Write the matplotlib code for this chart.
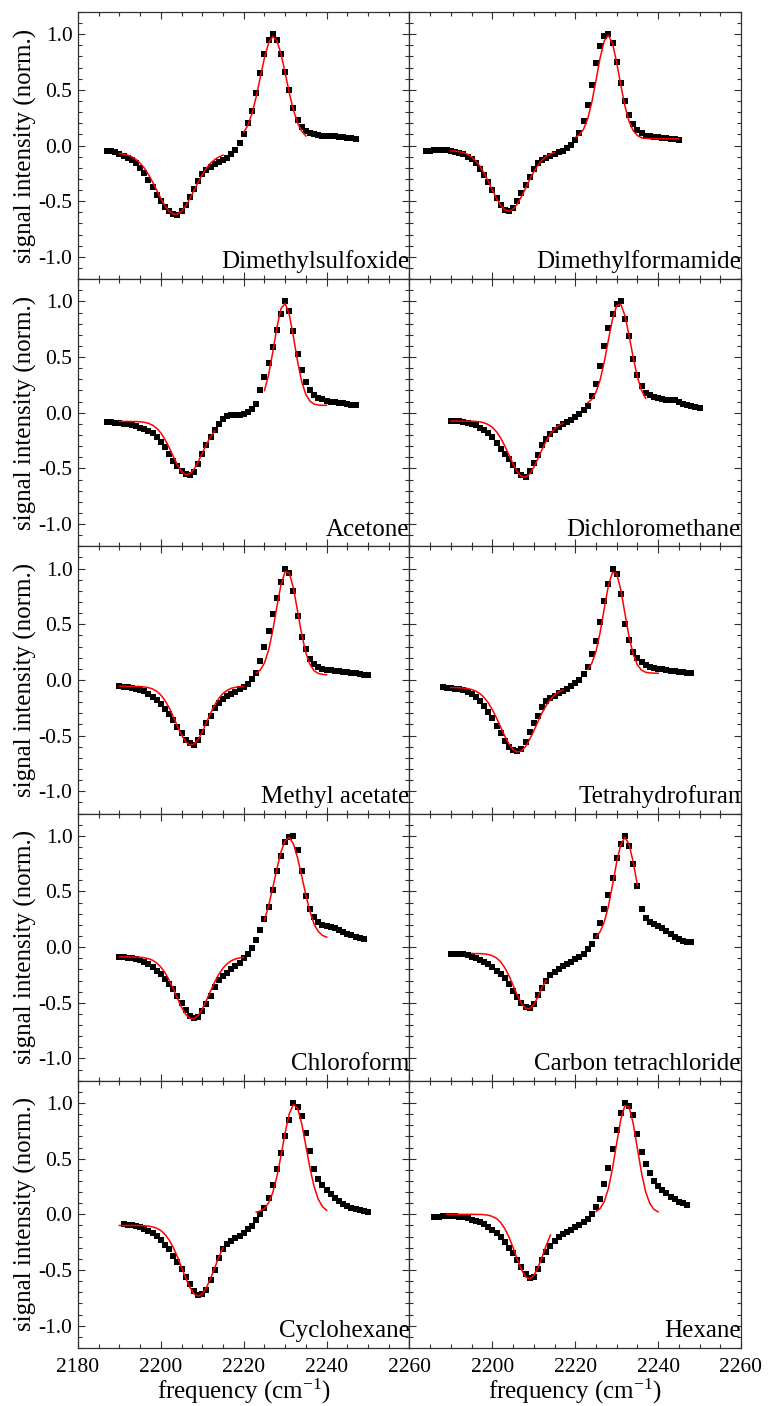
import matplotlib
matplotlib.use('Agg')
import matplotlib.pyplot as plt
import numpy as np
from matplotlib.ticker import MultipleLocator, FuncFormatter

plt.rcParams['font.family'] = ['Liberation Serif', 'DejaVu Serif']
plt.rcParams['mathtext.fontset'] = 'custom'
plt.rcParams['mathtext.rm'] = 'Liberation Serif'
plt.rcParams['mathtext.it'] = 'Liberation Serif:italic'
plt.rcParams['axes.unicode_minus'] = False

# ---------------- data (frequency in cm^-1, 1 cm^-1 steps from start) -------------
solvents = ["Dimethylsulfoxide", "Dimethylformamide", "Acetone", "Dichloromethane",
            "Methyl acetate", "Tetrahydrofuran", "Chloroform", "Carbon tetrachloride",
            "Cyclohexane", "Hexane"]

dmso_start = 2187
dmso_sig = [-0.045,-0.05,-0.06,-0.075,-0.09,-0.11,-0.13,-0.16,-0.20,-0.25,-0.31,-0.37,-0.44,-0.50,-0.55,-0.59,-0.615,-0.62,-0.59,-0.53,-0.46,-0.39,-0.32,-0.26,-0.22,-0.19,-0.17,-0.15,-0.13,-0.11,-0.08,-0.04,0.02,0.10,0.20,0.31,0.47,0.65,0.82,0.95,1.00,0.95,0.82,0.66,0.50,0.34,0.23,0.17,0.135,0.115,0.10,0.095,0.09,0.088,0.085,0.082,0.08,0.077,0.072,0.065,0.058]
dmso_fit1_start = 2190
dmso_fit1 = [-0.071,-0.077,-0.086,-0.102,-0.125,-0.158,-0.203,-0.260,-0.328,-0.402,-0.475,-0.541,-0.590,-0.617,-0.617,-0.590,-0.541,-0.475,-0.402,-0.328,-0.260,-0.203,-0.158,-0.125,-0.102,-0.086]
dmso_fit2_start = 2220
dmso_fit2 = [0.118,0.184,0.290,0.438,0.614,0.789,0.923,0.98,0.942,0.821,0.651,0.471,0.317,0.202,0.128,0.086]

dmf_start = 2184
dmf_sig = [-0.05,-0.045,-0.04,-0.036,-0.037,-0.04,-0.047,-0.055,-0.065,-0.08,-0.10,-0.125,-0.16,-0.21,-0.265,-0.33,-0.40,-0.47,-0.535,-0.58,-0.59,-0.56,-0.50,-0.43,-0.355,-0.28,-0.21,-0.16,-0.13,-0.11,-0.09,-0.075,-0.06,-0.045,-0.025,0.005,0.05,0.11,0.22,0.36,0.54,0.74,0.89,0.98,1.00,0.92,0.75,0.56,0.40,0.27,0.19,0.14,0.11,0.09,0.082,0.078,0.075,0.07,0.066,0.062,0.056,0.05]
dmf_fit1_start = 2190
dmf_fit1 = [-0.047,-0.050,-0.055,-0.064,-0.079,-0.103,-0.138,-0.186,-0.248,-0.321,-0.399,-0.474,-0.537,-0.577,-0.59,-0.572,-0.526,-0.460,-0.384,-0.306,-0.235,-0.176,-0.130,-0.097,-0.075,-0.061]
dmf_fit2_start = 2220
dmf_fit2 = [0.073,0.096,0.146,0.240,0.388,0.583,0.786,0.940,0.99,0.916,0.747,0.542,0.354,0.216,0.133,0.090,0.070,0.065,0.062,0.062,0.062,0.062,0.061,0.061,0.060,0.060]

acetone_start = 2187
acetone_sig = [-0.08,-0.085,-0.09,-0.095,-0.10,-0.105,-0.113,-0.122,-0.135,-0.148,-0.165,-0.185,-0.22,-0.265,-0.31,-0.37,-0.43,-0.48,-0.525,-0.55,-0.557,-0.53,-0.46,-0.37,-0.29,-0.22,-0.155,-0.10,-0.055,-0.03,-0.02,-0.018,-0.016,-0.012,0.005,0.035,0.08,0.20,0.32,0.45,0.59,0.74,0.89,1.00,0.91,0.73,0.53,0.385,0.28,0.20,0.16,0.135,0.12,0.108,0.10,0.095,0.09,0.085,0.08,0.074,0.069]
acetone_fit1_start = 2190
acetone_fit1 = [-0.078,-0.078,-0.078,-0.079,-0.079,-0.081,-0.086,-0.095,-0.112,-0.139,-0.182,-0.240,-0.313,-0.393,-0.469,-0.528,-0.557,-0.549,-0.507,-0.440,-0.361,-0.283,-0.215,-0.163]
acetone_fit2_start = 2225
acetone_fit2 = [0.200,0.341,0.544,0.767,0.937,0.982,0.881,0.680,0.457,0.277,0.162,0.103,0.077,0.069,0.067,0.067]

dcm_start = 2190
dcm_sig = [-0.072,-0.073,-0.076,-0.079,-0.088,-0.098,-0.113,-0.133,-0.155,-0.185,-0.222,-0.27,-0.325,-0.37,-0.415,-0.465,-0.52,-0.56,-0.575,-0.52,-0.45,-0.38,-0.29,-0.235,-0.19,-0.155,-0.125,-0.10,-0.08,-0.065,-0.04,-0.01,0.025,0.063,0.15,0.26,0.42,0.60,0.76,0.885,0.975,1.0,0.84,0.69,0.48,0.34,0.24,0.18,0.155,0.14,0.128,0.12,0.115,0.115,0.11,0.095,0.08,0.07,0.06,0.05,0.042]
dcm_fit1_start = 2190
dcm_fit1 = [-0.075,-0.075,-0.075,-0.075,-0.076,-0.076,-0.078,-0.082,-0.091,-0.106,-0.131,-0.171,-0.227,-0.298,-0.379,-0.460,-0.529,-0.571,-0.578,-0.549,-0.490,-0.412,-0.330,-0.253,-0.191,-0.145,-0.114,-0.096]
dcm_fit2_start = 2223
dcm_fit2 = [0.089,0.120,0.183,0.293,0.455,0.653,0.841,0.963,0.975,0.872,0.693,0.494,0.322,0.201,0.130]

meac_start = 2190
meac_sig = [-0.057,-0.06,-0.065,-0.071,-0.078,-0.088,-0.10,-0.125,-0.15,-0.18,-0.22,-0.26,-0.31,-0.36,-0.42,-0.48,-0.535,-0.57,-0.58,-0.54,-0.47,-0.39,-0.32,-0.255,-0.21,-0.175,-0.147,-0.125,-0.105,-0.085,-0.06,-0.035,0.005,0.06,0.168,0.30,0.437,0.59,0.74,0.88,1.0,0.96,0.80,0.57,0.39,0.275,0.19,0.14,0.115,0.10,0.092,0.087,0.082,0.077,0.072,0.068,0.063,0.058,0.053,0.047,0.042]
meac_fit1_start = 2190
meac_fit1 = [-0.057,-0.057,-0.057,-0.057,-0.058,-0.059,-0.063,-0.069,-0.081,-0.102,-0.136,-0.185,-0.251,-0.331,-0.416,-0.496,-0.556,-0.585,-0.578,-0.535,-0.466,-0.382,-0.298,-0.223,-0.164,-0.121,-0.093,-0.075,-0.066,-0.061,-0.058]
meac_fit2_start = 2223
meac_fit2 = [0.061,0.090,0.153,0.269,0.444,0.659,0.858,0.974,0.960,0.822,0.615,0.405,0.241,0.137,0.082,0.058,0.05,0.047]

thf_start = 2188
thf_sig = [-0.066,-0.07,-0.073,-0.077,-0.083,-0.093,-0.108,-0.13,-0.155,-0.19,-0.235,-0.285,-0.345,-0.41,-0.48,-0.55,-0.60,-0.63,-0.64,-0.62,-0.56,-0.47,-0.39,-0.32,-0.24,-0.19,-0.16,-0.14,-0.12,-0.102,-0.08,-0.057,-0.03,0.003,0.05,0.12,0.235,0.347,0.52,0.71,0.86,1.0,0.95,0.77,0.50,0.36,0.255,0.195,0.16,0.13,0.115,0.105,0.1,0.094,0.088,0.083,0.079,0.074,0.069,0.064,0.06]
thf_fit1_start = 2190
thf_fit1 = [-0.068,-0.069,-0.070,-0.073,-0.077,-0.086,-0.100,-0.123,-0.157,-0.205,-0.267,-0.342,-0.423,-0.505,-0.575,-0.625,-0.648,-0.638,-0.598,-0.534,-0.457,-0.374,-0.296,-0.229,-0.175,-0.135,-0.108,-0.091]
thf_fit2_start = 2223
thf_fit2 = [0.095,0.149,0.255,0.425,0.640,0.847,0.968,0.954,0.810,0.595,0.387,0.229,0.135,0.088,0.069,0.063,0.061,0.06]

chcl3_start = 2190
chcl3_sig = [-0.087,-0.09,-0.095,-0.10,-0.108,-0.118,-0.13,-0.155,-0.18,-0.21,-0.245,-0.285,-0.33,-0.38,-0.44,-0.50,-0.565,-0.615,-0.64,-0.625,-0.57,-0.515,-0.44,-0.36,-0.295,-0.26,-0.23,-0.20,-0.17,-0.14,-0.10,-0.06,-0.012,0.06,0.15,0.25,0.36,0.515,0.68,0.82,0.94,0.99,1.0,0.87,0.68,0.46,0.347,0.27,0.225,0.20,0.19,0.18,0.17,0.155,0.138,0.122,0.107,0.093,0.08,0.069]
chcl3_fit1_start = 2190
chcl3_fit1 = [-0.087,-0.087,-0.087,-0.088,-0.089,-0.091,-0.095,-0.104,-0.118,-0.143,-0.179,-0.230,-0.297,-0.376,-0.461,-0.541,-0.604,-0.641,-0.644,-0.613,-0.555,-0.477,-0.393,-0.312,-0.243,-0.188,-0.149,-0.122,-0.106,-0.097,-0.092]
chcl3_fit2_start = 2225
chcl3_fit2 = [0.244,0.373,0.532,0.704,0.857,0.958,0.983,0.926,0.800,0.636,0.466,0.317,0.203,0.14,0.105,0.09]

ccl4_start = 2190
ccl4_sig = [-0.066,-0.064,-0.063,-0.064,-0.072,-0.085,-0.10,-0.115,-0.133,-0.153,-0.177,-0.21,-0.24,-0.28,-0.33,-0.39,-0.45,-0.50,-0.54,-0.55,-0.51,-0.43,-0.365,-0.30,-0.25,-0.22,-0.195,-0.17,-0.15,-0.13,-0.11,-0.085,-0.06,-0.02,0.025,0.10,0.215,0.34,0.47,0.62,0.80,0.93,1.00,0.91,0.75,0.55,0.34,0.26,0.23,0.21,0.19,0.17,0.145,0.12,0.095,0.072,0.058,0.048,0.042]
ccl4_fit1_start = 2195
ccl4_fit1 = [-0.057,-0.058,-0.058,-0.061,-0.066,-0.077,-0.098,-0.132,-0.185,-0.256,-0.342,-0.430,-0.505,-0.549,-0.554,-0.516,-0.446,-0.360,-0.30]
ccl4_fit2_start = 2225
ccl4_fit2 = [0.091,0.138,0.225,0.367,0.558,0.762,0.923,0.985,0.923,0.762,0.558]

chex_start = 2191
chex_sig = [-0.09,-0.095,-0.10,-0.108,-0.117,-0.13,-0.15,-0.17,-0.195,-0.235,-0.275,-0.315,-0.37,-0.43,-0.49,-0.56,-0.63,-0.69,-0.728,-0.72,-0.68,-0.59,-0.50,-0.39,-0.31,-0.27,-0.24,-0.215,-0.193,-0.165,-0.135,-0.104,-0.05,0.0,0.06,0.15,0.26,0.41,0.55,0.70,0.85,1.0,0.96,0.88,0.73,0.57,0.41,0.32,0.265,0.22,0.185,0.15,0.12,0.095,0.075,0.06,0.045,0.035,0.027,0.021]
chex_fit1_start = 2190
chex_fit1 = [-0.10,-0.10,-0.10,-0.10,-0.10,-0.101,-0.103,-0.106,-0.113,-0.125,-0.146,-0.180,-0.231,-0.298,-0.383,-0.478,-0.574,-0.657,-0.714,-0.734,-0.714,-0.657,-0.574,-0.478,-0.383,-0.298]
chex_fit2_start = 2223
chex_fit2 = [0.020,0.030,0.053,0.104,0.195,0.339,0.529,0.735,0.906,0.988,0.952,0.812,0.613,0.411,0.246,0.134,0.069,0.036]

hex_start = 2186
hex_sig = [-0.025,-0.02,-0.017,-0.015,-0.016,-0.018,-0.022,-0.028,-0.037,-0.047,-0.058,-0.072,-0.09,-0.115,-0.14,-0.17,-0.205,-0.245,-0.30,-0.35,-0.41,-0.475,-0.54,-0.57,-0.56,-0.49,-0.41,-0.34,-0.285,-0.24,-0.205,-0.18,-0.16,-0.143,-0.118,-0.095,-0.07,-0.038,0.0,0.07,0.14,0.27,0.42,0.59,0.76,0.906,1.0,0.97,0.89,0.72,0.56,0.45,0.37,0.30,0.255,0.22,0.19,0.16,0.135,0.115,0.098,0.085]
hex_fit1_start = 2189
hex_fit1 = [0.0,0.0,0.0,0.0,0.0,0.0,0.0,-0.001,-0.001,-0.003,-0.008,-0.019,-0.038,-0.073,-0.128,-0.204,-0.299,-0.402,-0.496,-0.560,-0.580,-0.550,-0.479,-0.382,-0.279,-0.187]
hex_fit2_start = 2225
hex_fit2 = [0.025,0.052,0.114,0.231,0.413,0.639,0.853,0.978,0.963,0.815,0.592,0.372,0.202,0.098,0.044,0.022]

panels = [
    (dmso_start, dmso_sig, dmso_fit1_start, dmso_fit1, dmso_fit2_start, dmso_fit2),
    (dmf_start, dmf_sig, dmf_fit1_start, dmf_fit1, dmf_fit2_start, dmf_fit2),
    (acetone_start, acetone_sig, acetone_fit1_start, acetone_fit1, acetone_fit2_start, acetone_fit2),
    (dcm_start, dcm_sig, dcm_fit1_start, dcm_fit1, dcm_fit2_start, dcm_fit2),
    (meac_start, meac_sig, meac_fit1_start, meac_fit1, meac_fit2_start, meac_fit2),
    (thf_start, thf_sig, thf_fit1_start, thf_fit1, thf_fit2_start, thf_fit2),
    (chcl3_start, chcl3_sig, chcl3_fit1_start, chcl3_fit1, chcl3_fit2_start, chcl3_fit2),
    (ccl4_start, ccl4_sig, ccl4_fit1_start, ccl4_fit1, ccl4_fit2_start, ccl4_fit2),
    (chex_start, chex_sig, chex_fit1_start, chex_fit1, chex_fit2_start, chex_fit2),
    (hex_start, hex_sig, hex_fit1_start, hex_fit1, hex_fit2_start, hex_fit2),
]

# ---------------- figure ----------------
fig, axes = plt.subplots(5, 2, figsize=(7.68, 14.06), dpi=100)
fig.subplots_adjust(left=0.1016, right=0.9648, top=0.9915, bottom=0.0413,
                    wspace=0, hspace=0)

spine_col = '#303030'
for i, (ax, name, p) in enumerate(zip(axes.flat, solvents, panels)):
    s0, sig, f1s, f1, f2s, f2 = p
    x = s0 + np.arange(len(sig))
    ax.plot(x, sig, linestyle='none', marker='s', ms=3.8, mew=0, color='black', zorder=2)
    ax.plot(f1s + np.arange(len(f1)), f1, color='red', lw=1.1, zorder=3)
    ax.plot(f2s + np.arange(len(f2)), f2, color='red', lw=1.1, zorder=3)

    ax.set_xlim(2180, 2260)
    ax.set_ylim(-1.2, 1.2)
    ax.xaxis.set_major_locator(MultipleLocator(20))
    ax.xaxis.set_minor_locator(MultipleLocator(5))
    ax.yaxis.set_major_locator(MultipleLocator(0.5))
    ax.yaxis.set_minor_locator(MultipleLocator(0.1))
    ax.yaxis.set_major_formatter(FuncFormatter(lambda v, pos: '%.1f' % v))
    ax.tick_params(which='both', direction='in', top=True, right=True,
                   labelsize=15.5, color=spine_col, width=0.8)
    ax.tick_params(which='major', length=5)
    ax.tick_params(which='minor', length=2.7)
    ax.tick_params(axis='y', pad=4)
    ax.tick_params(axis='x', pad=7.5)
    for sp in ax.spines.values():
        sp.set_color(spine_col)
        sp.set_linewidth(0.9)

    row, col = divmod(i, 2)
    if col == 1:
        ax.tick_params(labelleft=False)
    else:
        ax.set_ylabel('signal intensity (norm.)', fontsize=18)
        ax.yaxis.set_label_coords(-0.125, 0.5)
    if row < 4:
        ax.tick_params(labelbottom=False)
    else:
        ax.set_xlabel('frequency (cm$^{-1}$)', fontsize=18)
        ax.xaxis.set_label_coords(0.5, -0.11)
        if col == 1:
            ax.xaxis.set_major_formatter(
                FuncFormatter(lambda v, pos: '' if abs(v - 2180) < 1e-6 else '%d' % v))
    ax.text(1.0, 0.04, name, transform=ax.transAxes, ha='right', va='baseline',
            fontsize=18)

fig.savefig('out.png', dpi=100)
